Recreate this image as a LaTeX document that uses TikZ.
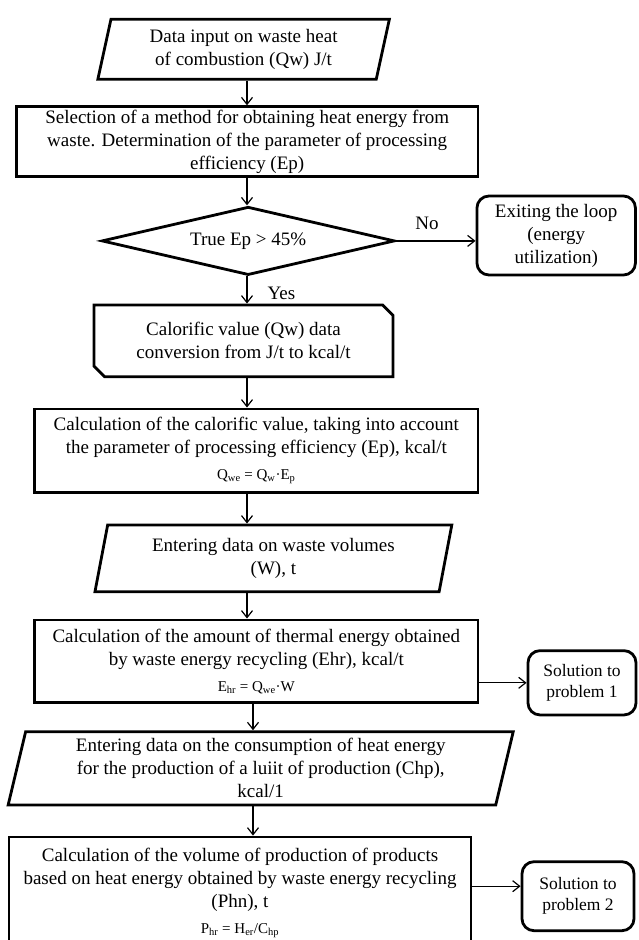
\documentclass[tikz,border=0pt]{standalone}
\usepackage{fontspec}
\setmainfont{Liberation Serif}
\usetikzlibrary{shapes.geometric,shapes.misc,arrows.meta}

\newcommand{\frml}{\fontsize{15}{18}\selectfont}

\tikzset{
	blk/.style={draw, line width=2.8pt, align=center, inner sep=0pt, font=\fontsize{19}{23}\selectfont},
	procbox/.style={blk, rectangle},
	iobox/.style={blk, trapezium, trapezium left angle=77, trapezium right angle=103, trapezium stretches=true},
	condbox/.style={blk, diamond, aspect=4.3},
	prepbox/.style={blk, chamfered rectangle, chamfered rectangle corners={north east,south west}, chamfered rectangle xsep=5pt, chamfered rectangle ysep=5.5pt},
	endbox/.style={blk, rectangle, rounded corners=12pt},
	solbox/.style={endbox, font=\fontsize{17.5}{21}\selectfont},
	arr/.style={line width=1.2pt, -{Straight Barb[length=7pt,width=11pt]}},
	lbl/.style={font=\fontsize{19}{23}\selectfont},
}

\begin{document}
\begin{tikzpicture}[x=1pt, y=-1pt]
	
	\useasboundingbox (0,0) rectangle (638,940);
	\clip (0,0) rectangle (638,940);
	
	\coordinate (axis) at (247, 0);
	\coordinate (axistwo) at (253, 0);
	
	\node[iobox, minimum width=292pt, minimum height=60pt] (datain) at (243.6, 49.3) {Data input on waste heat\\of combustion (Qw) J/t};
	
	\node[procbox, minimum width=461.7pt, minimum height=70pt] (method) at (247.2, 141.7) {Selection of a method for obtaining heat energy from\\waste. Determination of the parameter of processing\\efficiency (Ep)};
	
	\node[condbox, minimum width=293pt, minimum height=68.3pt] (check) at (248.2, 240.9) {True Ep > 45\%};
	\node[endbox, minimum width=158.5pt, minimum height=79pt] (leave) at (556.2, 235.5) {Exiting the loop\\(energy\\utilization)};
	\node[lbl] (no) at (427, 223) {No};
	\node[lbl] (yes) at (281.5, 293) {Yes};
	
	\node[prepbox, minimum width=299pt, minimum height=71.7pt] (convert) at (243.5, 340.8) {Calorific value (Qw) data\\conversion from J/t to kcal/t};
	
	\node[procbox, minimum width=443.4pt, minimum height=83.7pt] (calorie) at (256.3, 450.8) {Calculation of the calorific value, taking into account\\the parameter of processing efficiency (Ep), kcal/t\\[3pt]{\frml Q\textsubscript{we} = Q\textsubscript{w}·E\textsubscript{p}}};
	
	\node[iobox, minimum width=358pt, minimum height=66.7pt] (volume) at (273.4, 558.3) {Entering data on waste volumes\\(W), t};
	
	\node[procbox, minimum width=443.4pt, minimum height=82.7pt] (thermal) at (256.3, 661.3) {Calculation of the amount of thermal energy obtained\\by waste energy recycling (Ehr), kcal/t\\[3pt]{\frml E\textsubscript{hr} = Q\textsubscript{we}·W}};
	\node[solbox, minimum width=108pt, minimum height=64.3pt] (solone) at (582, 682.8) {Solution to\\problem 1};
	
	\node[iobox, minimum width=505.3pt, minimum height=73.3pt] (consume) at (260.7, 768.3) {Entering data on the consumption of heat energy\\for the production of a luiit of production (Chp),\\kcal/1};
	
	% box runs past the lower edge
	\node[procbox, minimum width=462pt, minimum height=112pt] (output) at (240, 893) {Calculation of the volume of production of products\\based on heat energy obtained by waste energy recycling\\(Phn), t\\[3pt]{\frml P\textsubscript{hr} = H\textsubscript{er}/C\textsubscript{hp}}};
	\node[solbox, minimum width=112pt, minimum height=69pt] (soltwo) at (578, 896.2) {Solution to\\problem 2};
	
	% connectors
	\draw[arr] (datain.south -| axis) -- (method.north -| axis);
	\draw[arr] (method.south -| axis) -- (check.north -| axis);
	\draw[arr] (check.south -| axis) -- (convert.north -| axis);
	\draw[arr] (check.east) -- (check.east -| leave.west);
	\draw[arr] (convert.south -| axis) -- (calorie.north -| axis);
	\draw[arr] (calorie.south -| axis) -- (volume.north -| axis);
	\draw[arr] (volume.south -| axis) -- (thermal.north -| axis);
	\draw[arr] (solone.west -| thermal.east) -- (solone.west);
	\draw[arr] (thermal.south -| axistwo) -- (consume.north -| axistwo);
	\draw[arr] (consume.south -| axistwo) -- (output.north -| axistwo);
	\draw[arr] ([yshift=10pt]soltwo.west -| output.east) -- ([yshift=10pt]soltwo.west);
	
\end{tikzpicture}
\end{document}
